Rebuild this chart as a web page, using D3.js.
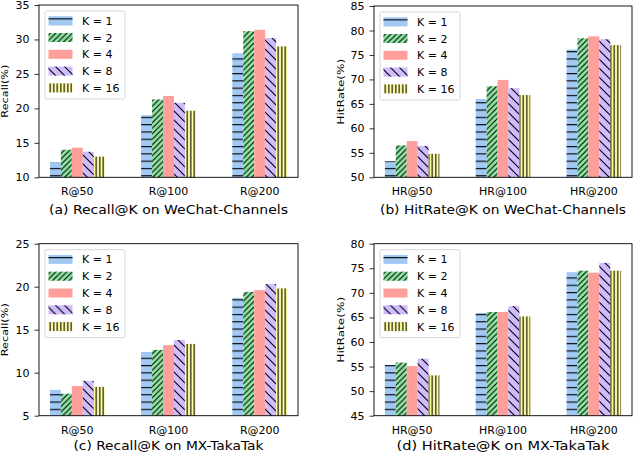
<!DOCTYPE html>
<html>
<head>
<meta charset="utf-8">
<script src="https://cdn.jsdelivr.net/npm/d3@7"></script>
<style>
  html, body { margin: 0; padding: 0; background: #fff; }
  svg { display: block; font-family: "DejaVu Sans", sans-serif; }
</style>
</head>
<body>
<div id="chart"></div>
<script>
// legend entries, one per K
var kLabels = ["K = 1", "K = 2", "K = 4", "K = 8", "K = 16"];
var kColors = ["#a1c9f4", "#8de5a1", "#ff9f9b", "#d0bbff", "#fffea3"];
var kHatch  = ["hline", "fdiag", null, "bdiag", "vline"];

var recallCats = ["R@50", "R@100", "R@200"];
var hitCats    = ["HR@50", "HR@100", "HR@200"];

// rows = K, columns = category
var wechatRecall = [
  [12.2, 19.0, 28.0],
  [14.0, 21.3, 31.2],
  [14.3, 21.8, 31.4],
  [13.7, 20.8, 30.2],
  [13.0, 19.65, 29.0]
];
var wechatHit = [
  [53.3, 66.0, 76.1],
  [56.5, 68.6, 78.4],
  [57.4, 69.9, 78.8],
  [56.4, 68.2, 78.2],
  [54.8, 66.8, 77.0]
];
var takaRecall = [
  [8.0, 12.4, 18.7],
  [7.55, 12.65, 19.4],
  [8.45, 13.2, 19.6],
  [9.05, 13.8, 20.3],
  [8.35, 13.35, 19.8]
];
var takaHit = [
  [55.3, 65.9, 74.2],
  [55.8, 66.1, 74.5],
  [55.1, 66.1, 74.1],
  [56.6, 67.3, 76.1],
  [53.2, 65.2, 74.5]
];

var panels = [
  { cats: recallCats, data: wechatRecall, dom: [10, 35], ylab: "Recall(%)", ylen: 53,
    title: "(a) Recall@K on WeChat-Channels", tlen: 239,
    x0: 39, x1: 298, y0: 5, y1: 177.3, ylx: 7.5, ty: 214 },
  { cats: hitCats, data: wechatHit, dom: [50, 85], ylab: "HitRate(%)", ylen: 66,
    title: "(b) HitRate@K on WeChat-Channels", tlen: 246,
    x0: 374, x1: 632, y0: 6, y1: 177.3, ylx: 343.5, ty: 214 },
  { cats: recallCats, data: takaRecall, dom: [5, 25], ylab: "Recall(%)", ylen: 53,
    title: "(c) Recall@K on MX-TakaTak", tlen: 190,
    x0: 39, x1: 298, y0: 243.7, y1: 415.7, ylx: 7.5, ty: 450 },
  { cats: hitCats, data: takaHit, dom: [45, 80], ylab: "HitRate(%)", ylen: 66,
    title: "(d) HitRate@K on MX-TakaTak", tlen: 213,
    x0: 374, x1: 632, y0: 243.7, y1: 415.7, ylx: 343.5, ty: 450 }
];

var svg = d3.select("#chart").append("svg")
  .attr("width", 634)
  .attr("height", 454);

// hatch patterns
var defs = svg.append("defs");
function addPattern(id, w, h, draw) {
  var p = defs.append("pattern")
    .attr("id", id)
    .attr("patternUnits", "userSpaceOnUse")
    .attr("width", w).attr("height", h);
  draw(p, w, h);
}
addPattern("hline", 8, 7.3, function(p, w, h) {
  p.append("line").attr("x1", 0).attr("x2", w).attr("y1", 0.6).attr("y2", 0.6)
    .attr("stroke", "#000").attr("stroke-width", 1.1);
});
addPattern("vline", 3.5, 8, function(p, w, h) {
  p.append("line").attr("x1", 1.75).attr("x2", 1.75).attr("y1", 0).attr("y2", h)
    .attr("stroke", "#000").attr("stroke-width", 1.1);
});
addPattern("fdiag", 5.5, 5.5, function(p, w, h) {
  p.append("path").attr("d", "M0," + h + "L" + w + ",0M-1,1L1,-1M" + (w - 1) + "," + (h + 1) + "L" + (w + 1) + "," + (h - 1))
    .attr("stroke", "#000").attr("stroke-width", 1.1);
});
addPattern("bdiag", 9, 9, function(p, w, h) {
  p.append("path").attr("d", "M0,0L" + w + "," + h + "M-1," + (h - 1) + "L1," + (h + 1) + "M" + (w - 1) + ",-1L" + (w + 1) + ",1")
    .attr("stroke", "#000").attr("stroke-width", 1.1);
});

var barW = 0.12;

panels.forEach(function(pn) {
  var g = svg.append("g");
  var x = d3.scaleLinear().domain([-0.42, 2.42]).range([pn.x0, pn.x1]);
  var y = d3.scaleLinear().domain(pn.dom).range([pn.y1, pn.y0]);

  // bars
  pn.data.forEach(function(row, k) {
    var off = (k - 2) * barW;
    var bg = g.append("g");
    bg.selectAll("rect.fill")
      .data(row)
      .enter().append("rect")
      .attr("x", function(d, i) { return x(i + off - barW / 2); })
      .attr("width", x(barW) - x(0))
      .attr("y", function(d) { return y(d); })
      .attr("height", function(d) { return y(pn.dom[0]) - y(d); })
      .attr("fill", kColors[k]);
    if (kHatch[k]) {
      bg.selectAll("rect.hatch")
        .data(row)
        .enter().append("rect")
        .attr("x", function(d, i) { return x(i + off - barW / 2); })
        .attr("width", x(barW) - x(0))
        .attr("y", function(d) { return y(d); })
        .attr("height", function(d) { return y(pn.dom[0]) - y(d); })
        .attr("fill", "url(#" + kHatch[k] + ")");
    }
  });

  // y axis
  var ya = g.append("g")
    .attr("transform", "translate(" + pn.x0 + ",0)")
    .call(d3.axisLeft(y).tickValues(d3.range(pn.dom[0], pn.dom[1] + 0.1, 5))
      .tickSize(4.5).tickPadding(5).tickSizeOuter(0));
  ya.select(".domain").remove();
  ya.selectAll("text").attr("font-size", "11px").attr("fill", "#000")
    .attr("font-family", "DejaVu Sans, sans-serif");
  ya.selectAll("line").attr("stroke", "#000").attr("stroke-width", 0.8);

  // x tick labels
  g.selectAll("text.xt")
    .data(pn.cats)
    .enter().append("text")
    .attr("x", function(d, i) { return x(i); })
    .attr("y", pn.y1 + 18)
    .attr("text-anchor", "middle")
    .attr("font-size", "11px")
    .text(function(d) { return d; });

  // frame
  g.append("rect")
    .attr("x", pn.x0).attr("y", pn.y0)
    .attr("width", pn.x1 - pn.x0).attr("height", pn.y1 - pn.y0)
    .attr("fill", "none").attr("stroke", "#000").attr("stroke-width", 0.9);

  // y label
  g.append("text")
    .attr("transform", "translate(" + pn.ylx + "," + ((pn.y0 + pn.y1) / 2) + ") rotate(-90)")
    .attr("text-anchor", "middle")
    .attr("font-size", "9px")
    .attr("textLength", pn.ylen)
    .attr("lengthAdjust", "spacingAndGlyphs")
    .text(pn.ylab);

  // subtitle
  g.append("text")
    .attr("x", (pn.x0 + pn.x1) / 2)
    .attr("y", pn.ty)
    .attr("text-anchor", "middle")
    .attr("font-size", "13px")
    .attr("textLength", pn.tlen)
    .attr("lengthAdjust", "spacingAndGlyphs")
    .text(pn.title);

  // legend
  var lx = pn.x0 + 6, ly = pn.y0 + 6;
  var lg = g.append("g").attr("transform", "translate(" + lx + "," + ly + ")");
  lg.append("rect")
    .attr("x", 0).attr("y", 0).attr("width", 80).attr("height", 88)
    .attr("rx", 2)
    .attr("fill", "#fff").attr("fill-opacity", 0.8)
    .attr("stroke", "#ccc").attr("stroke-width", 0.8);
  kLabels.forEach(function(lab, k) {
    var cy = 9.7 + k * 16.8;
    lg.append("rect").attr("x", 3.5).attr("y", cy - 4.5).attr("width", 24).attr("height", 9)
      .attr("fill", kColors[k]);
    if (kHatch[k]) {
      lg.append("rect").attr("x", 3.5).attr("y", cy - 4.5).attr("width", 24).attr("height", 9)
        .attr("fill", "url(#" + kHatch[k] + ")");
    }
    lg.append("text")
      .attr("x", 37).attr("y", cy + 4)
      .attr("font-size", "11px")
      .text(lab);
  });
});
</script>
</body>
</html>
